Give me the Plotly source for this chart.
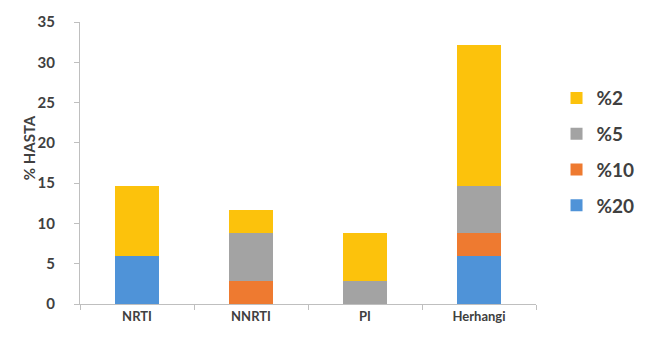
import plotly.graph_objects as go

categories = ["NRTI", "NNRTI", "PI", "Herhangi"]
series_names = ["%20", "%10", "%5", "%2"]
pct20 = [5.9, 0, 0, 5.9]
pct10 = [0, 2.9, 0, 2.9]
pct5 = [0, 5.9, 2.9, 5.8]
pct2 = [8.8, 2.9, 5.9, 17.6]
colors = ["#4f93d8", "#ee7a30", "#a3a3a3", "#fcc20c"]

fig = go.Figure()
for rank, (name, vals, col) in enumerate(zip(series_names, [pct20, pct10, pct5, pct2], colors)):
    fig.add_trace(go.Bar(
        x=categories, y=vals, name=name, legendgroup=name,
        legendrank=100 - rank,
        marker=dict(color=col, line=dict(width=0)),
    ))

font_family = "Lato, 'Open Sans', sans-serif"
fig.update_layout(
    width=652, height=337,
    barmode="stack", bargap=0.61,
    plot_bgcolor="white", paper_bgcolor="white",
    margin=dict(l=80, r=92, t=17, b=33),
    font=dict(family=font_family, color="#404040"),
    showlegend=True,
    legend=dict(
        traceorder="grouped", tracegroupgap=8,
        x=1.045, xanchor="left", y=0.54, yanchor="middle",
        font=dict(size=19, family=font_family, color="#404040", weight="bold"),
        itemwidth=30,
    ),
    annotations=[dict(
        text="% HASTA", textangle=-90, showarrow=False,
        xref="paper", yref="paper", x=-0.113, y=0.554,
        xanchor="center", yanchor="middle",
        font=dict(size=15, weight="bold", color="#404040"),
    )],
)
fig.update_xaxes(
    showline=True, linecolor="#bfbfbf", linewidth=1,
    ticks="outside", ticklen=5, tickcolor="#bfbfbf", tickson="boundaries",
    tickfont=dict(size=13, weight="bold", color="#404040"),
    showgrid=False,
)
fig.update_yaxes(
    range=[0, 35], dtick=5,
    showline=True, linecolor="#bfbfbf", linewidth=1,
    ticks="outside", ticklen=5, tickcolor="#bfbfbf",
    ticklabelstandoff=16,
    tickfont=dict(size=15, weight="bold", color="#404040"),
    showgrid=False, zeroline=False,
)

fig.write_html("out.html")
